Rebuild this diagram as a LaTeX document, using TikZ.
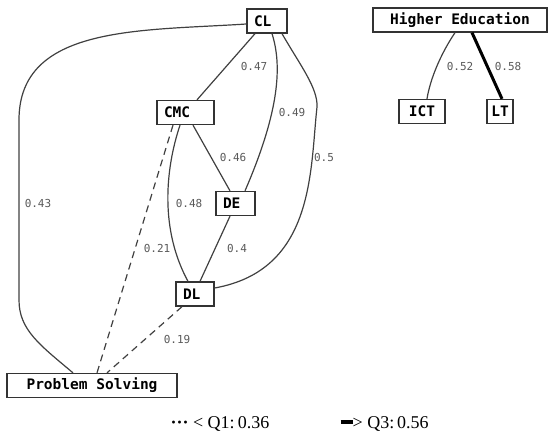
\documentclass[tikz,border=0pt]{standalone}
\usepackage{fontspec}
\setmainfont{Liberation Serif}
\newfontfamily\varfont{DejaVu Sans Mono}
\usetikzlibrary{positioning}

\begin{document}
\begin{tikzpicture}[x=1pt,y=-1pt,line width=1.2pt,draw=black!75]
  \tikzstyle{var}=[draw=black!80,line width=1.3pt,fill=white,font=\varfont\bfseries\fontsize{14.5}{16}\selectfont,minimum height=24pt,inner xsep=7pt,inner ysep=0pt]
  \tikzstyle{weight}=[text=black!65,font=\varfont\fontsize{11}{12}\selectfont,inner sep=1pt]
  \tikzstyle{low}=[dashed,dash pattern=on 7pt off 5pt]
  \tikzstyle{high}=[line width=3pt,draw=black]
  \useasboundingbox (0,0) rectangle (549,433);
  % left aligned boxes
  \foreach \name/\x/\y/\w in {CL/267/21/26,CMC/185.5/112.5/43,DE/235.5/203.5/25,DL/195/294/24}
    \node[var,align=left,text width=\w pt] (\name) at (\x,\y) {\name};
  \node[var,minimum width=174pt] (HE) at (460,20) {Higher Education};
  \node[var,minimum width=170pt] (PS) at (92,385.5) {Problem Solving};
  \node[var,minimum width=46pt] (ICT) at (422,111.5) {ICT};
  \node[var,minimum width=26pt,inner xsep=2pt] (LT) at (500,111.5) {LT};
  % connectors
  \draw ([yshift=-3pt]CL.west) .. controls (140,31) and (19,25) .. (19,120) -- (19,300)
    .. controls (19,330) and (40,345) .. ([xshift=-19pt]PS.north);
  \draw ([xshift=-12pt]CL.south) -- ([xshift=11.5pt]CMC.north);
  \draw ([xshift=5pt]CL.south) .. controls (282,65) and (280,110) .. ([xshift=9.5pt]DE.north);
  \draw ([xshift=15pt]CL.south) .. controls (300,65) and (318,88) .. (317,107)
    .. controls (310,170) and (315,270) .. ([yshift=6pt]DL.east);
  \draw ([xshift=7.5pt]CMC.south) -- ([xshift=-5.5pt]DE.north);
  \draw ([xshift=-5.5pt]CMC.south) .. controls (165,170) and (160,230) .. ([xshift=-7pt]DL.north);
  \draw[low] ([xshift=-12.5pt]CMC.south) -- ([xshift=5pt]PS.north);
  \draw ([xshift=-5.5pt]DE.south) -- ([xshift=5pt]DL.north);
  \draw[low] ([xshift=-13pt]DL.south) -- ([xshift=15pt]PS.north);
  \draw ([xshift=-5pt]HE.south) .. controls (440,55) and (430,80) .. ([xshift=5pt]ICT.north);
  \draw[high] ([xshift=12pt]HE.south) -- ([xshift=2pt]LT.north);
  % weights
  \foreach \name/\lab/\x/\y in {CL-CMC/0.47/254/66,CL-DE/0.49/292/112,CMC-DE/0.46/233/157,CL-DL/0.5/324/157,
      CMC-DL/0.48/189/203,CL-PS/0.43/38/203,CMC-PS/0.21/157/248,DE-DL/0.4/237/248,DL-PS/0.19/177/339,
      HE-ICT/0.52/460/66,HE-LT/0.58/508/66}
    \node[weight] (w-\name) at (\x,\y) {\lab};
  % legend
  \node[anchor=base west,inner sep=0pt,font=\fontsize{18}{20}\selectfont] (q1) at (170,428) {\textbf{···} < Q1:\,0.36};
  \node[anchor=base west,inner sep=0pt,font=\fontsize{18}{20}\selectfont] (q3) at (340,428) {\rule[4.5pt]{12pt}{3.5pt}> Q3:\,0.56};
\end{tikzpicture}
\end{document}
